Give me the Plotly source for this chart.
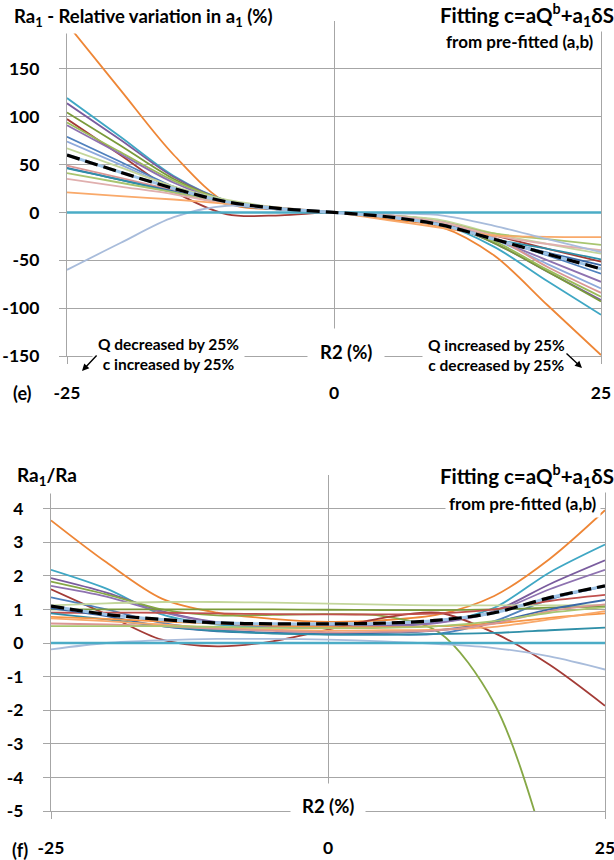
import plotly.graph_objects as go

W, H = 614, 860

# ---------------- data ----------------
R2 = [-25, -20, -15, -10, -5, 0, 5, 10, 15, 20, 25]

# Panel (e): Ra1 - relative variation in a1 (%)
e_series = [
    ("#EE8636", [197, 128, 60, 10, 3, 0, -7, -15, -45, -97, -149]),
    ("#3FA7C4", [119.5, 79, 38, 12, 4, 0, -4, -12, -36, -72, -107]),
    ("#7A5C9E", [114, 76, 37, 12, 4, 0, -4, -11, -32, -62, -91.5]),
    ("#7A9A3A", [104.5, 70, 35, 12, 4, 0, -4, -11, -32, -62, -93]),
    ("#A33B36", [97.5, 60, 22, -2, -3, 0, -3, -9, -24, -38, -51.5]),
    ("#9BBB59", [94, 63, 33, 12, 4, 0, -4, -11, -30, -60, -88]),
    ("#8E72B0", [91, 61, 31, 11, 4, 0, -4, -10, -28, -50, -72.5]),
    ("#4F81BD", [79, 53, 27, 9, 3, 0, -4, -10, -27, -45, -64]),
    ("#8DA9DB", [74, 50, 26, 10, 3, 0, -3, -9, -28, -54, -79.5]),
    ("#C3D69B", [67, 47, 27, 13, 5, 0, -3, -8, -22, -33, -43]),
    ("#DA9694", [49, 36, 23, 10, 4, 0, -3, -11, -26, -57, -84]),
    ("#3A68A8", [46.5, 34, 22, 10, 3, 0, -4, -12, -28, -42, -55]),
    ("#2F8FA8", [46, 34, 21, 9, 3, 0, -5, -13, -28, -38, -49]),
    ("#A9C56F", [41, 31, 21, 10, 4, 0, -3, -10, -22, -28, -34]),
    ("#E0AFAE", [35, 27, 19, 9, 3, 0, -3, -10, -24, -33, -39.5]),
    ("#F9A96A", [21, 17, 13.5, 9, 5, 0, -8, -16, -24, -25.5, -25.7]),
    ("#A8BCDB", [-60, -32, -5, 7, 3, 0, -1, -3, -14, -28, -41.5]),
]
e_mean = [60, 42, 25, 11, 4, 0, -4.5, -13, -28, -43.5, -59]
e_zero = [0, 0, 0, 0, 0, 0, 0, 0, 0, 0, 0]

# Panel (f): Ra1/Ra
f_series = [
    ("#EE8636", [3.65, 2.40, 1.32, 0.90, 0.72, 0.63, 0.68, 0.85, 1.40, 2.50, 3.95]),
    ("#3FA7C4", [2.18, 1.62, 0.85, 0.55, 0.48, 0.46, 0.48, 0.62, 1.05, 2.10, 2.93]),
    ("#7A5C9E", [1.93, 1.50, 0.95, 0.62, 0.52, 0.50, 0.52, 0.62, 0.95, 1.75, 2.46]),
    ("#86A846", [1.83, 1.45, 1.00, 0.82, 0.84, 0.86, 0.80, 0.32, -1.80, -6.50, -13.0]),
    ("#8E72B0", [1.70, 1.38, 0.92, 0.60, 0.50, 0.48, 0.50, 0.60, 0.92, 1.60, 2.18]),
    ("#A33B36", [1.60, 0.85, 0.10, -0.10, 0.05, 0.40, 0.75, 0.90, 0.30, -0.65, -1.87]),
    ("#4F81BD", [1.36, 1.00, 0.60, 0.40, 0.30, 0.26, 0.25, 0.28, 0.65, 1.30, 1.68]),
    ("#C3D69B", [1.12, 1.18, 1.22, 1.22, 1.20, 1.17, 1.14, 1.12, 1.12, 1.12, 1.13]),
    ("#7A9A3A", [1.00, 1.00, 1.00, 1.00, 1.00, 0.99, 0.98, 0.98, 1.00, 1.05, 1.08]),
    ("#C0504D", [0.90, 0.90, 0.90, 0.88, 0.86, 0.85, 0.85, 0.88, 1.00, 1.25, 1.43]),
    ("#3A68A8", [1.03, 0.80, 0.50, 0.35, 0.30, 0.28, 0.30, 0.38, 0.62, 1.00, 1.28]),
    ("#2F8FA8", [0.88, 0.70, 0.50, 0.36, 0.28, 0.25, 0.25, 0.27, 0.30, 0.38, 0.46]),
    ("#F79646", [0.78, 0.72, 0.64, 0.58, 0.52, 0.48, 0.47, 0.50, 0.58, 0.75, 0.88]),
    ("#F9A96A", [0.73, 0.65, 0.55, 0.45, 0.40, 0.37, 0.38, 0.40, 0.48, 0.70, 0.95]),
    ("#DA9694", [0.58, 0.55, 0.50, 0.42, 0.36, 0.32, 0.33, 0.38, 0.58, 0.95, 1.15]),
    ("#A9C56F", [0.50, 0.50, 0.50, 0.48, 0.45, 0.44, 0.45, 0.50, 0.65, 0.90, 1.06]),
    ("#A8BCDB", [-0.19, 0.00, 0.08, 0.12, 0.12, 0.10, 0.05, -0.03, -0.15, -0.40, -0.79]),
]
f_mean = [1.10, 0.85, 0.70, 0.60, 0.57, 0.57, 0.59, 0.68, 0.90, 1.35, 1.70]
f_zero = [0, 0, 0, 0, 0, 0, 0, 0, 0, 0, 0]

x_tickvals = [-25, 0, 25]
x_ticktext = ["-25", "0", "25"]
e_tickvals = [-150, -100, -50, 0, 50, 100, 150, 200]
e_ticktext = ["-150", "-100", "-50", "0", "50", "100", "150", ""]
f_tickvals = [-5, -4, -3, -2, -1, 0, 1, 2, 3, 4, 5]
f_ticktext = ["-5", "-4", "-3", "-2", "-1", "0", "1", "2", "3", "4", ""]

# ---------------- figure ----------------
FONT = "Lato"
GRID = "#A6A6A6"
fig = go.Figure()


def bold(lst):
    return ["<b>%s</b>" % t if t else "" for t in lst]


def add_panel(series, mean, zero, xa, ya):
    for col, vals in series:
        fig.add_trace(go.Scatter(x=R2, y=vals, mode="lines", xaxis=xa, yaxis=ya,
                                 line=dict(color=col, width=1.8, shape="spline", smoothing=0.9),
                                 showlegend=False, hoverinfo="skip"))
    fig.add_trace(go.Scatter(x=R2, y=zero, mode="lines", xaxis=xa, yaxis=ya,
                             line=dict(color="#4BACC6", width=2.6),
                             showlegend=False, hoverinfo="skip"))
    fig.add_trace(go.Scatter(x=R2, y=mean, mode="lines", xaxis=xa, yaxis=ya,
                             line=dict(color="#9DC3E6", width=3, shape="spline", smoothing=0.9),
                             showlegend=False, hoverinfo="skip"))
    fig.add_trace(go.Scatter(x=R2, y=mean, mode="lines", xaxis=xa, yaxis=ya,
                             line=dict(color="black", width=3.2, shape="spline", smoothing=0.9,
                                       dash="13px,6px"),
                             showlegend=False, hoverinfo="skip"))


add_panel(e_series, e_mean, e_zero, "x", "y")
add_panel(f_series, f_mean, f_zero, "x2", "y2")


def px(v):
    return v / W


def py(v):
    return 1 - v / H


tickfont = dict(family=FONT, size=17.5, color="black")
common_x = dict(range=[-25, 25], tickvals=x_tickvals, ticktext=bold(x_ticktext), showgrid=True,
                gridcolor=GRID, gridwidth=1.3, zeroline=False, showline=True, linecolor=GRID,
                linewidth=1.3, ticks="outside", ticklen=7, tickcolor=GRID, tickwidth=1.3,
                tickfont=tickfont, ticklabelstandoff=14, ticklabeloverflow="allow",
                fixedrange=True, automargin=False)
common_y = dict(showgrid=True, gridcolor=GRID, gridwidth=1.3, zeroline=False, showline=True,
                mirror=True, linecolor=GRID, linewidth=1.3, ticks="outside", ticklen=7,
                tickcolor=GRID, tickwidth=1.3, tickfont=tickfont, ticklabelstandoff=16,
                ticklabeloverflow="allow", fixedrange=True, automargin=False)

fig.update_layout(
    width=W, height=H, margin=dict(l=0, r=0, t=0, b=0, autoexpand=False),
    paper_bgcolor="white", plot_bgcolor="white",
    xaxis=dict(domain=[px(67), px(601)], anchor="y", **common_x),
    yaxis=dict(domain=[py(356), py(21)], anchor="x", range=[-150, 200],
               tickvals=e_tickvals, ticktext=bold(e_ticktext), **common_y),
    xaxis2=dict(domain=[px(51), px(605)], anchor="y2", **common_x),
    yaxis2=dict(domain=[py(811), py(475)], anchor="x2", range=[-5, 5],
                tickvals=f_tickvals, ticktext=bold(f_ticktext), **common_y),
)


def txt(text, x, y, size, xanchor="center", pad=2, bg="white"):
    fig.add_annotation(text="<b>%s</b>" % text, x=px(x), y=py(y), xref="paper", yref="paper",
                       xanchor=xanchor, yanchor="middle", showarrow=False,
                       font=dict(family=FONT, size=size, color="black"),
                       bgcolor=bg, borderpad=pad, align="center")


def arrow(x0, y0, x1, y1):
    fig.add_annotation(text="", x=px(x1), y=py(y1), xref="paper", yref="paper",
                       ax=x0 - x1, ay=y0 - y1, showarrow=True, arrowhead=2,
                       arrowsize=1, arrowwidth=1.4, arrowcolor="black")


# panel (e) texts
txt("Ra<sub>1</sub> - Relative variation in a<sub>1</sub> (%)", 10, 18, 18.5, "left", 3)
txt("from pre-fitted (a,b)", 520, 41, 17, "center", 4)
txt("Fitting c=aQ<sup>b</sup>+a<sub>1</sub>δS", 616, 15, 20.5, "right", 1)
txt("R2 (%)", 346, 352, 18.5, "center", 12)
txt("Q decreased by 25%<br>c increased by 25%", 168, 354, 15.5, "center", 5)
txt("Q increased by 25%<br>c decreased by 25%", 496, 355, 15.5, "center", 5)
arrow(98, 354, 82, 371)
arrow(565, 352, 582, 368)
txt("(e)", 22, 393, 18, "center", 0, None)

# panel (f) texts
txt("Ra<sub>1</sub>/Ra", 12, 476, 19, "left", 4)
txt("from pre-fitted (a,b)", 523, 503, 17, "center", 3)
txt("Fitting c=aQ<sup>b</sup>+a<sub>1</sub>δS", 616, 476, 20.5, "right", 1)
txt("R2 (%)", 328, 806, 18.5, "center", 11)
txt("(f)", 20, 850, 18, "center", 0, None)

fig.write_html("out.html",
               config={"displayModeBar": False, "responsive": False},
               post_script="document.body.style.margin='0';"
                           "document.documentElement.style.overflow='hidden';")
